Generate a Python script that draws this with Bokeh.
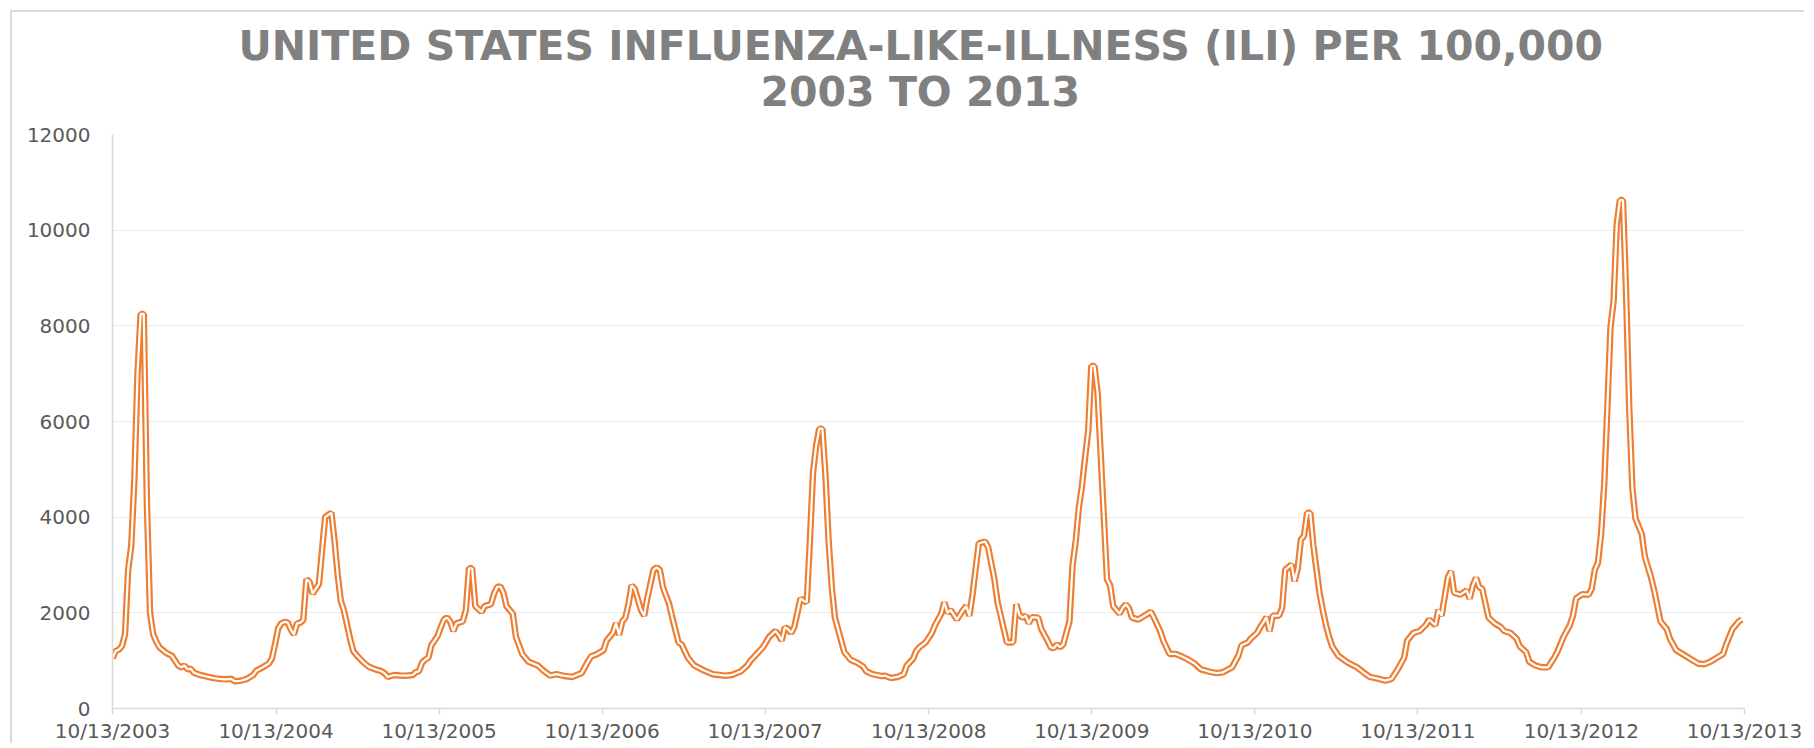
import datetime as dt
from bokeh.plotting import figure
from bokeh.models import FixedTicker, DatetimeTickFormatter, Range1d, Title
from bokeh.embed import file_html
from bokeh.resources import INLINE

# ---- data ----
start_date = "2003-10-13"
title_lines = ["UNITED STATES INFLUENZA-LIKE-ILLNESS (ILI) PER 100,000", "2003 TO 2013"]
tick_dates = ["2003-10-13", "2004-10-13", "2005-10-13", "2006-10-13", "2007-10-13",
              "2008-10-13", "2009-10-13", "2010-10-13", "2011-10-13", "2012-10-13", "2013-10-13"]
y_ticks = [0, 2000, 4000, 6000, 8000, 10000, 12000]

# weeks since start_date
weeks = [0, 1, 2, 3, 4, 5, 6, 7, 8, 9, 10, 11, 12, 13, 14, 15, 17, 19, 21, 22, 23, 24, 25, 26, 28, 30,
         32, 34, 36, 38, 39, 41, 43, 45, 46, 48, 50, 51, 52, 53, 54, 55, 56, 57, 58, 59, 60, 61, 62, 63,
         64, 65, 66, 67, 68, 69, 70, 71, 72, 73, 74, 75, 76, 77, 78, 80, 82, 84, 86, 87, 88, 90, 92, 94,
         96, 97, 98, 99, 100, 101, 102, 103, 104, 105, 106, 107, 108, 109, 110, 112, 113, 114, 115, 116,
         118, 119, 121, 122, 123, 124, 125, 126, 128, 129, 131, 133, 136, 138, 140, 142, 144, 147, 150,
         152, 153, 155, 157, 158, 160, 161, 162, 163, 164, 165, 166, 167, 169, 170, 171, 173, 174, 175,
         176, 178, 179, 181, 182, 184, 186, 189, 192, 196, 198, 201, 203, 204, 206, 208, 210, 212, 213,
         214, 215, 216, 217, 218, 220, 221, 222, 223, 224, 225, 226, 227, 228, 229, 230, 231, 233, 234,
         236, 238, 240, 241, 243, 246, 247, 249, 251, 253, 254, 256, 257, 258, 260, 262, 263, 265, 266,
         267, 268, 270, 272, 273, 274, 275, 277, 279, 280, 282, 283, 285, 286, 288, 289, 290, 291, 292,
         293, 294, 296, 297, 299, 300, 301, 302, 303, 304, 306, 307, 308, 309, 310, 311, 312, 313, 314,
         315, 316, 317, 318, 319, 320, 322, 323, 324, 325, 326, 328, 330, 332, 333, 335, 336, 338, 340,
         342, 344, 346, 348, 351, 353, 355, 358, 360, 361, 363, 364, 366, 367, 368, 369, 370, 371, 373,
         374, 375, 377, 378, 379, 380, 381, 382, 383, 384, 385, 386, 387, 388, 389, 390, 392, 395, 398,
         400, 402, 405, 407, 409, 411, 413, 414, 416, 418, 420, 421, 423, 424, 425, 427, 428, 429, 431,
         433, 434, 435, 436, 437, 438, 440, 442, 444, 445, 447, 449, 450, 452, 453, 455, 457, 459, 461,
         462, 464, 466, 467, 468, 470, 472, 473, 474, 475, 476, 477, 478, 479, 480, 481, 482, 483, 484,
         485, 486, 487, 489, 490, 492, 493, 495, 497, 498, 500, 503, 505, 507, 509, 511, 513, 515, 516,
         518, 520, 521]

ili = [1050, 1200, 1230, 1300, 1550, 2900, 3400, 4800, 7000, 8250, 8250, 4300, 2000, 1550, 1400, 1280,
       1170, 1100, 900, 860, 900, 820, 830, 750, 700, 670, 640, 620, 610, 620, 570, 580, 620, 700, 790,
       860, 940, 1050, 1350, 1680, 1780, 1810, 1800, 1650, 1550, 1780, 1790, 1850, 2700, 2650, 2400,
       2500, 2600, 3300, 4000, 4050, 4090, 3500, 2800, 2250, 2050, 1750, 1450, 1200, 1120, 980, 870,
       820, 780, 740, 660, 700, 690, 686, 700, 760, 780, 960, 1020, 1060, 1330, 1420, 1520, 1700, 1860,
       1900, 1820, 1620, 1780, 1820, 2060, 2930, 2930, 2140, 2020, 2140, 2180, 2400, 2540, 2550, 2420,
       2140, 1980, 1500, 1140, 980, 900, 780, 686, 718, 686, 660, 740, 980, 1085, 1140, 1220, 1420,
       1580, 1780, 1540, 1820, 1900, 2180, 2575, 2500, 2060, 1940, 2300, 2900, 2950, 2900, 2540, 2180,
       1900, 1380, 1340, 1060, 900, 800, 718, 686, 700, 780, 900, 1000, 1140, 1280, 1500, 1620, 1540,
       1420, 1700, 1660, 1580, 1700, 2300, 2250, 2220, 3490, 4930, 5490, 5850, 5850, 4850, 3490, 2540,
       1900, 1420, 1180, 1020, 960, 880, 780, 718, 678, 686, 638, 660, 718, 900, 1040, 1200, 1280, 1380,
       1580, 1740, 1980, 2220, 2000, 2060, 1860, 2060, 2140, 1940, 2380, 3450, 3490, 3370, 2700, 2220,
       1660, 1380, 1380, 2180, 1950, 1900, 1940, 1780, 1910, 1900, 1660, 1420, 1280, 1260, 1340, 1280,
       1340, 1820, 3000, 3500, 4200, 4650, 5250, 5800, 7160, 7160, 6600, 5300, 4000, 2700, 2575, 2140,
       1980, 2100, 2180, 2100, 1900, 1860, 1940, 2020, 1900, 1620, 1420, 1140, 1140, 1085, 1020, 940,
       820, 765, 740, 757, 860, 1100, 1320, 1380, 1460, 1580, 1700, 1800, 1910, 1620, 1940, 1940, 2100,
       2900, 3010, 2660, 2930, 3530, 3610, 4090, 4090, 3400, 2900, 2400, 2060, 1750, 1500, 1300, 1100,
       960, 860, 757, 660, 620, 582, 620, 820, 1060, 1420, 1580, 1620, 1750, 1860, 1740, 2060, 1940,
       2735, 2870, 2420, 2380, 2470, 2300, 2575, 2735, 2540, 2500, 1900, 1780, 1700, 1620, 1580, 1460,
       1300, 1180, 980, 900, 860, 860, 1060, 1180, 1500, 1740, 1940, 2300, 2390, 2380, 2500, 2900, 3050,
       3650, 4690, 6280, 7960, 8520, 10110, 10630, 10630, 8680, 6280, 4610, 3970, 3650, 3170, 2735, 2460,
       1820, 1660, 1460, 1220, 1100, 1020, 940, 925, 980, 1060, 1140, 1340, 1660, 1820, 1860]

# ---- build ----
t0 = dt.datetime.strptime(start_date, "%Y-%m-%d")
dates = [t0 + dt.timedelta(days=7 * w) for w in weeks]
tick_dt = [dt.datetime.strptime(d, "%Y-%m-%d") for d in tick_dates]
epoch = dt.datetime(1970, 1, 1)
tick_ms = [(d - epoch).total_seconds() * 1000.0 for d in tick_dt]

p = figure(width=1794, height=733, x_axis_type="datetime", output_backend="svg",
           toolbar_location=None, x_range=Range1d(tick_dt[0], tick_dt[-1]),
           y_range=Range1d(y_ticks[0], y_ticks[-1]),
           min_border_left=100, min_border_right=62, min_border_bottom=30, min_border_top=122)
p.styles = {"border-left": "2px solid #d9d9d9", "border-top": "2px solid #d9d9d9",
            "margin-left": "10px", "margin-top": "10px"}
p.outline_line_color = None
p.background_fill_color = "white"
p.border_fill_color = "white"

# subtitle first (nearest the plot), main line added after it (placed above)
title_standoffs = [-47, 38]
title_offsets = [126, 648]
for txt, so, off in reversed(list(zip(title_lines, title_standoffs, title_offsets))):
    p.add_layout(Title(text=txt, align="left", offset=off, standoff=so,
                       text_font="DejaVu Sans", text_font_size="41px",
                       text_font_style="bold", text_color="#808080"), "above")

line_color = "#ED7D31"
p.line(dates, ili, line_color=line_color, line_width=6.5, line_join="bevel")
p.line(dates, ili, line_color="white", line_width=2.2, line_join="bevel")

fmt = "%m/%d/%Y"
p.xaxis.ticker = FixedTicker(ticks=tick_ms)
p.xaxis.formatter = DatetimeTickFormatter(years=fmt, months=fmt, days=fmt, hours=fmt,
                                          minutes=fmt, seconds=fmt, milliseconds=fmt,
                                          microseconds=fmt, hourmin=fmt, minsec=fmt)
p.yaxis.ticker = FixedTicker(ticks=y_ticks)

for ax in (p.xaxis, p.yaxis):
    ax.axis_line_color = "#d9d9d9"
    ax.axis_line_width = 1.5
    ax.major_tick_line_color = "#d9d9d9"
    ax.major_tick_line_width = 1.5
    ax.minor_tick_line_color = None
    ax.major_label_text_font = "DejaVu Sans"
    ax.major_label_text_font_size = "20px"
    ax.major_label_text_color = "#595959"

p.xaxis.major_tick_out = 6
p.xaxis.major_tick_in = 0
p.xaxis.major_label_standoff = 4
p.yaxis.major_tick_out = 0
p.yaxis.major_tick_in = 0
p.yaxis.major_label_standoff = 22

p.xgrid.grid_line_color = None
p.ygrid.grid_line_color = "#ececec"
p.ygrid.grid_line_width = 1.2

open("out.html", "w").write(file_html(p, INLINE))
